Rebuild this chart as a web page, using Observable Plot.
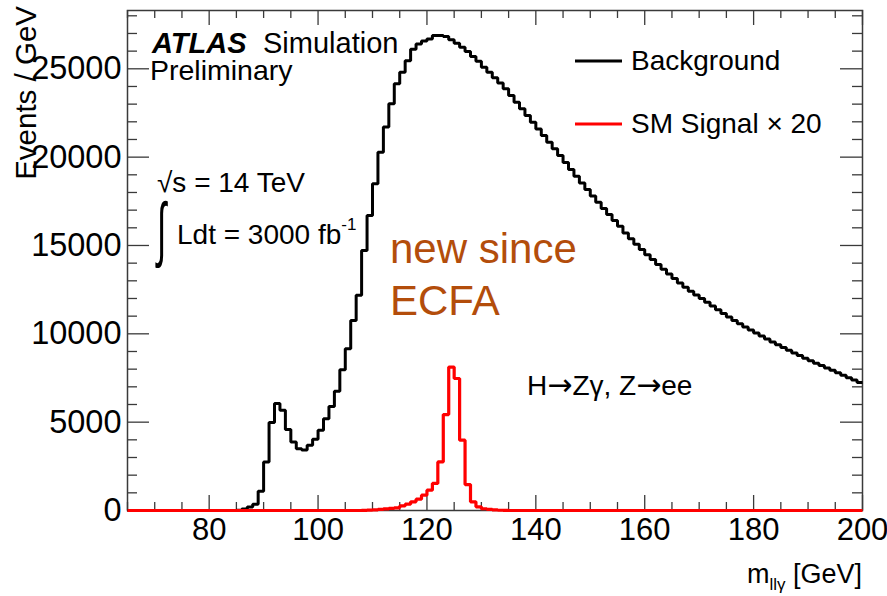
<!DOCTYPE html>
<html>
<head>
<meta charset="utf-8">
<script src="https://cdn.jsdelivr.net/npm/d3@7"></script>
<script src="https://cdn.jsdelivr.net/npm/@observablehq/plot@0.6"></script>
<style>
  body { margin: 0; background: #fff; }
  svg { display: block; }
</style>
</head>
<body>
<div id="chart"></div>
<script>
// ---- data ----
const binStart = 65;   // GeV, left edge of first bin
const binWidth = 1;    // GeV
// Background, events / GeV, bins 65..199
const background = [
  0, 0, 0, 0, 0, 0, 0, 0, 0, 0,            // 65-74
  0, 0, 0, 0, 0, 0, 0, 0, 0, 0,            // 75-84
  20, 80, 200, 360, 1090, 2750, 4980, 6050, 5670, 4580,          // 85-94
  3880, 3500, 3420, 3690, 4030, 4540, 5200, 5880, 6750, 7970,    // 95-104
  9160, 10760, 12180, 14720, 16700, 18490, 20280, 21700, 23020, 24150, // 105-114
  24810, 25450, 26100, 26410, 26580, 26690, 26880, 26880, 26830, 26640, // 115-124
  26450, 26220, 25980, 25700, 25430, 25090, 24810, 24490, 24190, 23870, // 125-134
  23490, 23110, 22740, 22360, 21980, 21600, 21230, 20850, 20470, 20100, // 135-144
  19700, 19300, 18920, 18540, 18170, 17800, 17450, 17100, 16760, 16420, // 145-154
  16090, 15700, 15380, 15070, 14770, 14480, 14200, 13920, 13650, 13390, // 155-164
  13130, 12880, 12640, 12410, 12200, 12000, 11790, 11580, 11360, 11150, // 165-174
  10950, 10760, 10570, 10390, 10210, 10040, 9870, 9700, 9540, 9380,     // 175-184
  9220, 9070, 8920, 8770, 8620, 8480, 8340, 8200, 8070, 7940,           // 185-194
  7800, 7660, 7520, 7380, 7240                                          // 195-199
];
// SM signal x 20, bins 65..199
const signal = [
  0, 0, 0, 0, 0, 0, 0, 0, 0, 0,            // 65-74
  0, 0, 0, 0, 0, 0, 0, 0, 0, 0,            // 75-84
  0, 0, 0, 0, 0, 0, 0, 0, 0, 0,            // 85-94
  0, 0, 0, 0, 0, 0, 0, 0, 0, 0,            // 95-104
  0, 0, 0, 10, 20, 40, 60, 90, 120, 150,   // 105-114
  260, 360, 490, 640, 870, 1150, 1530, 2750, 5430, 8120,  // 115-124
  7470, 3980, 1470, 490, 210, 100, 60, 30, 15, 5,          // 125-134
  0, 0, 0, 0, 0, 0, 0, 0, 0, 0,            // 135-144
  0, 0, 0, 0, 0, 0, 0, 0, 0, 0,            // 145-154
  0, 0, 0, 0, 0, 0, 0, 0, 0, 0,            // 155-164
  0, 0, 0, 0, 0, 0, 0, 0, 0, 0,            // 165-174
  0, 0, 0, 0, 0, 0, 0, 0, 0, 0,            // 175-184
  0, 0, 0, 0, 0, 0, 0, 0, 0, 0,            // 185-194
  0, 0, 0, 0, 0                            // 195-199
];
const xDomain = [65, 200];
const yDomain = [0, 28300];
const xMajorTicks = [80, 100, 120, 140, 160, 180, 200];
const xMinorTicks = [65, 70, 75, 85, 90, 95, 105, 110, 115, 125, 130, 135, 145, 150, 155, 165, 170, 175, 185, 190, 195];
const yMajorTicks = [0, 5000, 10000, 15000, 20000, 25000];
const yMinorTicks = [1000, 2000, 3000, 4000, 6000, 7000, 8000, 9000, 11000, 12000, 13000, 14000,
                     16000, 17000, 18000, 19000, 21000, 22000, 23000, 24000, 26000, 27000, 28000];
const legendLabels = ["Background", "SM Signal \u00d7 20"];
const seriesColors = ["#000000", "#ff0000"];
const yTitle = "Events / GeV";
const xTitleMain = "m", xTitleSub = "ll\u03b3", xTitleUnit = " [GeV]";
const atlasLabel = "ATLAS", simLabel = "Simulation", prelimLabel = "Preliminary";
const energyLabel = "\u221as = 14 TeV";
const lumiLabel = "Ldt = 3000 fb", lumiSup = "-1";
const noteLines = ["new since", "ECFA"];
const channelParts = ["H", "\u2192", "Z\u03b3, Z", "\u2192", "ee"];

// ---- helpers ----
function toSteps(values) {
  const pts = values.map((v, i) => ({x: binStart + i * binWidth, y: v}));
  pts.push({x: binStart + values.length * binWidth, y: values[values.length - 1]});
  return pts;
}

const W = 887, H = 596, mL = 127, mR = 25, mT = 10, mB = 86;
const innerW = W - mL - mR, innerH = H - mT - mB;
const FONT = "'Liberation Sans', Arial, Helvetica, sans-serif";
const axisColor = "#3a3a3a";

function annotations() {
  const g = d3.create("svg:g").attr("font-family", FONT).attr("fill", "black")
    .attr("text-anchor", "start");
  const t = (x, y, s, size, extra = {}) => {
    const el = g.append("text").attr("x", x).attr("y", y).attr("font-size", size).text(s);
    for (const k in extra) el.attr(k, extra[k]);
    return el;
  };
  // ATLAS Simulation Preliminary
  t(152, 53, atlasLabel, 29, {"font-weight": "bold", "font-style": "italic"});
  t(263, 53, simLabel, 29);
  t(150, 80, prelimLabel, 28.5);
  // sqrt(s), lumi
  t(157, 192, energyLabel, 28);
  g.append("text").attr("transform", "translate(157,253) scale(0.6,1.27)")
    .attr("font-size", 56).text("\u222b");
  const lt = t(177, 244, lumiLabel, 28);
  lt.append("tspan").attr("dy", -14).attr("font-size", 17).text(lumiSup);
  // note
  t(390, 263, noteLines[0], 42, {fill: "#b34d0b"});
  t(390, 315, noteLines[1], 42, {fill: "#b34d0b"});
  // channel
  const ch = t(527, 395, "", 28);
  channelParts.forEach((p, i) => {
    const sp = ch.append("tspan").text(p);
    if (i % 2 === 1) sp.attr("font-family", "'DejaVu Sans', sans-serif").attr("font-size", 30);
  });
  // legend
  [61, 124].forEach((yy, i) => {
    g.append("line").attr("x1", 575).attr("x2", 622).attr("y1", yy).attr("y2", yy)
      .attr("stroke", seriesColors[i]).attr("stroke-width", 3);
    t(631, yy + 9, legendLabels[i], 28);
  });
  // axis titles
  t(36, 6, yTitle, 29.5, {"text-anchor": "end", transform: "rotate(-90 36 6)"});
  const xt = g.append("text").attr("x", 862).attr("y", 583).attr("text-anchor", "end")
    .attr("font-size", 27).text(xTitleMain);
  xt.append("tspan").attr("dy", 7).attr("font-size", 17).text(xTitleSub);
  xt.append("tspan").attr("dy", -7).text(xTitleUnit);
  return g.node();
}

const chart = Plot.plot({
  width: W, height: H,
  marginLeft: mL, marginRight: mR, marginTop: mT, marginBottom: mB,
  x: {domain: xDomain, axis: null},
  y: {domain: yDomain, axis: null},
  style: {fontFamily: FONT, background: "white", color: "black", overflow: "visible"},
  marks: [
    Plot.frame({stroke: axisColor, strokeWidth: 1.5}),
    // ticks (inward)
    Plot.tickX(xMajorTicks, {x: d => d, stroke: axisColor, strokeWidth: 1.3, insetTop: innerH - 15}),
    Plot.tickX(xMajorTicks, {x: d => d, stroke: axisColor, strokeWidth: 1.3, insetBottom: innerH - 15}),
    Plot.tickX(xMinorTicks, {x: d => d, stroke: axisColor, strokeWidth: 1.3, insetTop: innerH - 8}),
    Plot.tickX(xMinorTicks, {x: d => d, stroke: axisColor, strokeWidth: 1.3, insetBottom: innerH - 8}),
    Plot.tickY(yMajorTicks, {y: d => d, stroke: axisColor, strokeWidth: 1.3, insetRight: innerW - 22}),
    Plot.tickY(yMajorTicks, {y: d => d, stroke: axisColor, strokeWidth: 1.3, insetLeft: innerW - 22}),
    Plot.tickY(yMinorTicks, {y: d => d, stroke: axisColor, strokeWidth: 1.3, insetRight: innerW - 10}),
    Plot.tickY(yMinorTicks, {y: d => d, stroke: axisColor, strokeWidth: 1.3, insetLeft: innerW - 10}),
    // tick labels
    Plot.text(xMajorTicks, {x: d => d, frameAnchor: "bottom", lineAnchor: "top", dy: 7,
      text: d => String(d), fontSize: 31, fill: "black"}),
    Plot.text(yMajorTicks, {y: d => d, frameAnchor: "left", textAnchor: "end", lineAnchor: "middle", dx: -6,
      text: d => String(d), fontSize: 32.5, fill: "black"}),
    // histograms
    Plot.line(toSteps(background), {x: "x", y: "y", curve: "step-after", stroke: seriesColors[0],
      strokeWidth: 3, strokeLinejoin: "miter", strokeLinecap: "butt"}),
    Plot.line(toSteps(signal), {x: "x", y: "y", curve: "step-after", stroke: seriesColors[1],
      strokeWidth: 3.2, strokeLinejoin: "miter", strokeLinecap: "butt"}),
    annotations
  ]
});
document.getElementById("chart").appendChild(chart);
</script>
</body>
</html>
